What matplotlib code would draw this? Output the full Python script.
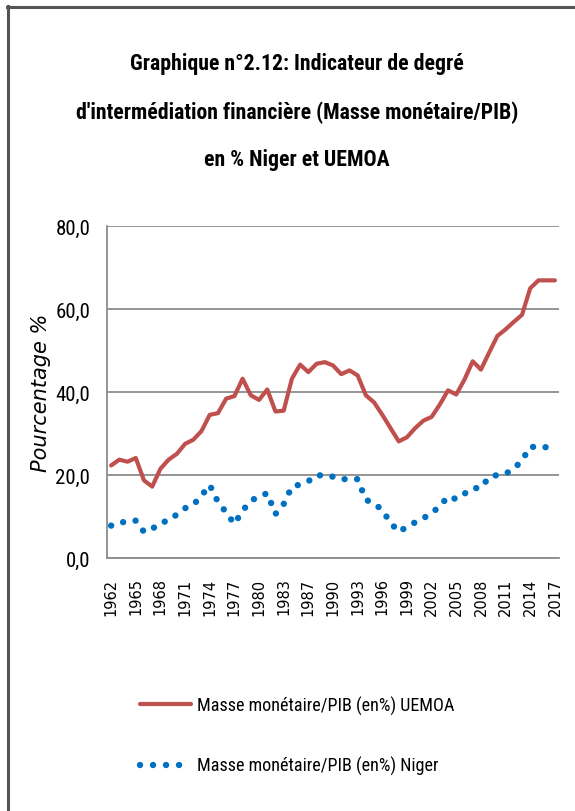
import matplotlib
matplotlib.use("Agg")
import matplotlib.pyplot as plt
from matplotlib.lines import Line2D
from matplotlib.legend_handler import HandlerLine2D

# ---------------- data ----------------
years = list(range(1962, 1986)) + list(range(1987, 2018))
uemoa = [22.3, 23.7, 23.2, 24.1, 18.7, 17.2, 21.5, 23.7, 25.1, 27.5,
         28.5, 30.6, 34.5, 34.9, 38.4, 39.0, 43.2, 39.2, 38.1, 40.6,
         35.3, 35.5, 43.2, 46.6, 44.8, 46.8, 47.2, 46.4, 44.3, 45.2,
         44.0, 39.2, 37.5, 34.5, 31.3, 28.1, 29.1, 31.3, 33.1, 34.0,
         37.0, 40.4, 39.4, 43.0, 47.4, 45.4, 49.5, 53.5, 55.1, 56.9,
         58.6, 65.0, 66.9, 66.9, 66.9]
niger = [7.8, 8.5, 8.8, 9.0, 6.3, 7.0, 8.5, 9.0, 10.5, 12.0,
         12.8, 15.0, 17.6, 13.5, 11.0, 8.2, 11.4, 13.8, 14.8, 15.6,
         10.6, 13.0, 17.2, 17.7, 18.5, 20.0, 19.8, 19.6, 19.0, 19.0,
         19.0, 14.0, 13.2, 11.5, 8.5, 6.3, 7.5, 8.6, 9.6, 10.8,
         12.5, 14.8, 14.2, 15.5, 16.8, 16.9, 19.5, 20.0, 20.3, 21.5,
         23.5, 26.8, 26.7, 26.7, 26.7]
yticks = [0, 20, 40, 60, 80]
title_lines = ["Graphique n°2.12: Indicateur de degré",
               "d'intermédiation financière (Masse monétaire/PIB)",
               "en % Niger et UEMOA"]
label_uemoa = "Masse monétaire/PIB (en%) UEMOA"
label_niger = "Masse monétaire/PIB (en%) Niger"

NARROW = ['Liberation Sans Narrow', 'DejaVu Sans Condensed', 'Roboto Condensed',
          'Open Sans Condensed', 'Roboto', 'DejaVu Sans']
RED = '#C0504D'
BLUE = '#0070C0'
GRID = '#8C8C8C'
NIGER_LW = 4.6

W, H = 575, 812
fig = plt.figure(figsize=(W / 100, H / 100), dpi=100)
fig.patch.set_facecolor('white')
renderer = fig.canvas.get_renderer()


def fit_size(text, target_px, weight='normal', ref=20.0):
    t = fig.text(0, 0, text, fontfamily=NARROW, fontsize=ref, fontweight=weight)
    w = t.get_window_extent(renderer).width
    t.remove()
    return ref * target_px / w


class DotHandler(HandlerLine2D):
    """Legend handle with exactly four round dots, ~13 px apart."""
    def create_artists(self, legend, orig_handle, xdescent, ydescent,
                       width, height, fontsize, trans):
        spacing = 9.36  # points
        arts = super().create_artists(legend, orig_handle, xdescent, ydescent,
                                      3 * spacing + 2.0, height, fontsize, trans)
        lw = orig_handle.get_linewidth()
        arts[0].set_linestyle((0, (0.01, spacing / lw - 0.01)))
        arts[0].set_dash_capstyle('round')
        return arts


ax = fig.add_axes([107 / W, 1 - 559 / H, (559 - 107) / W, (559 - 227) / H])
x = list(range(len(years)))

l1, = ax.plot(x, uemoa, color=RED, lw=3.0, solid_capstyle='round',
              solid_joinstyle='round', label=label_uemoa, zorder=3)
l2, = ax.plot(x, niger, color=BLUE, lw=NIGER_LW, linestyle=(0, (0.01, 1.95)),
              dash_capstyle='round', label=label_niger, zorder=3)

ax.set_xlim(-0.5, len(years) - 0.5)
ax.set_ylim(0, 80)
ax.set_yticks(yticks)
ytl = [f"{v:.1f}".replace('.', ',') for v in yticks]
ysz = min(fit_size(ytl[-1], 35), 19)
ax.set_yticklabels(ytl, fontfamily=NARROW, fontsize=ysz)
ax.set_xticks(x[::3])
ax.set_xticklabels([str(y) for y in years[::3]], rotation=90,
                   fontfamily='DejaVu Sans', fontsize=10.5)
ax.tick_params(axis='both', length=0)
ax.tick_params(axis='y', pad=12)
ax.tick_params(axis='x', pad=14)

ax.yaxis.grid(True, color=GRID, lw=1.3)
ax.set_axisbelow(True)
for s in ['top', 'right']:
    ax.spines[s].set_visible(False)
for s in ['left', 'bottom']:
    ax.spines[s].set_color(GRID)
    ax.spines[s].set_linewidth(1.3)

ax.set_ylabel("Pourcentage %", fontfamily='DejaVu Sans', style='italic',
              fontsize=15)
ax.yaxis.set_label_coords(-0.123, 0.5)

# title
tsz = fit_size(title_lines[1], 440, weight='bold')
for yy, t in zip([64, 113, 160], title_lines):
    fig.text(297 / W, 1 - yy / H, t, ha='center', va='center',
             fontfamily=NARROW, fontweight='bold', fontsize=tsz)

# legend
lsz = fit_size(label_uemoa, 258)
lpx = lsz * 100 / 72
fig.legend(handles=[l1, l2], loc='center left',
           bbox_to_anchor=(140 / W, 1 - 736.5 / H),
           frameon=False, prop={'family': NARROW, 'size': lsz},
           handlelength=51 / lpx, handletextpad=6 / lpx,
           labelspacing=(63 - 1.2 * lpx) / lpx,
           borderpad=0, borderaxespad=0,
           handler_map={l2: DotHandler()})

# outer frame (left and top)
fig.add_artist(Line2D([8 / W, 8 / W], [0, 1 - 7 / H], transform=fig.transFigure,
                      color='#555555', lw=2.2))
fig.add_artist(Line2D([7 / W, 1], [1 - 8 / H, 1 - 8 / H], transform=fig.transFigure,
                      color='#555555', lw=2.2))

fig.savefig('out.png', dpi=100, facecolor='white')
